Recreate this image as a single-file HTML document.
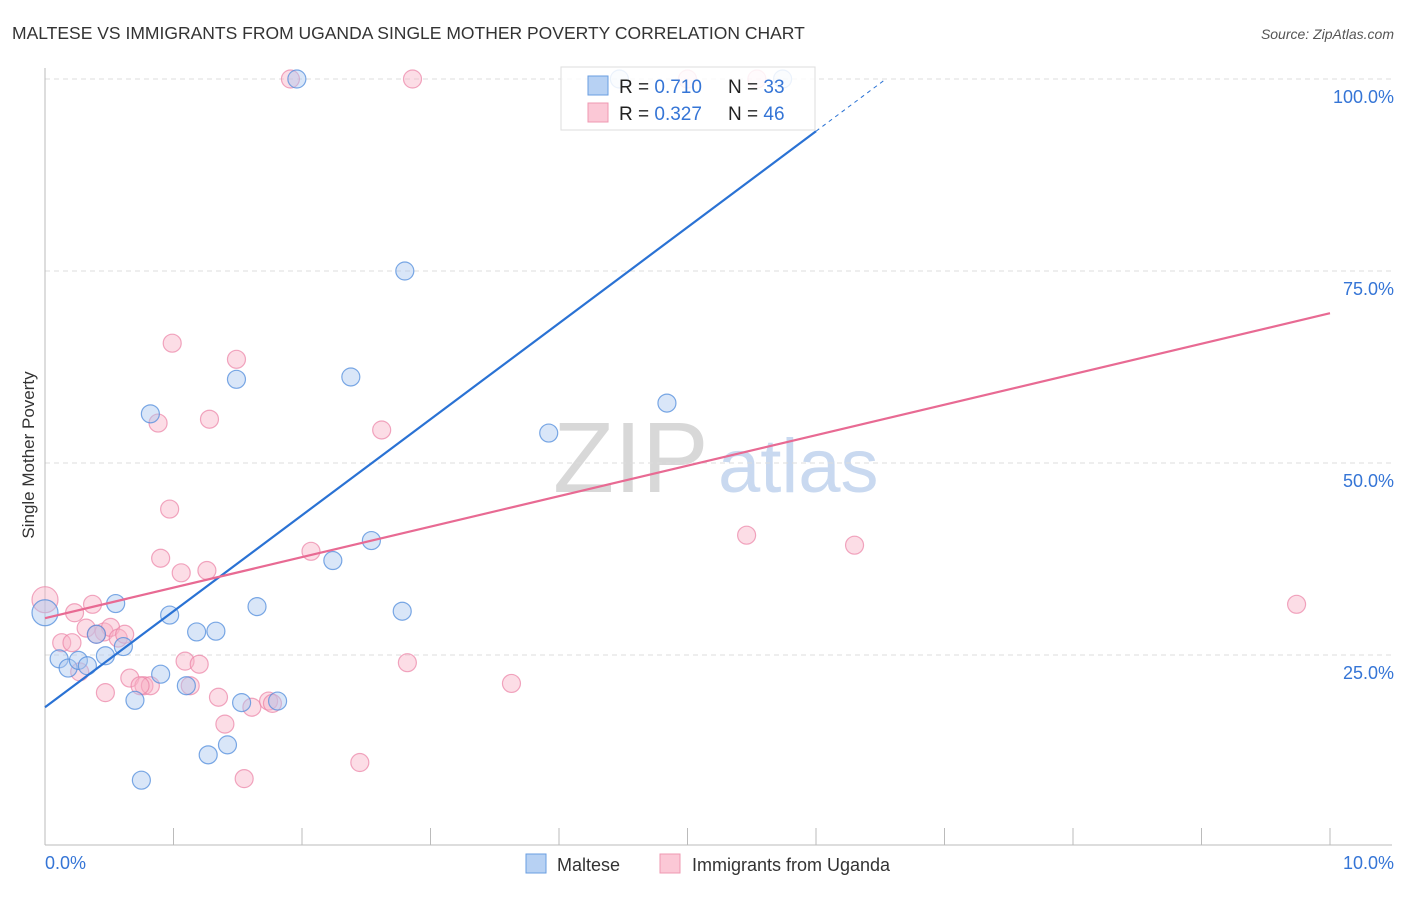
<!DOCTYPE html>
<html><head><meta charset="utf-8"><style>
body{margin:0;background:#fff;font-family:"Liberation Sans",sans-serif;}
svg text{font-family:"Liberation Sans",sans-serif;}
</style></head><body>
<svg id="c" width="1406" height="892">
<text x="12" y="39" font-size="17.5" fill="#333">MALTESE VS IMMIGRANTS FROM UGANDA SINGLE MOTHER POVERTY CORRELATION CHART</text>
<text x="1394" y="39" font-size="14" fill="#555" font-style="italic" text-anchor="end">Source: ZipAtlas.com</text>
<text x="0" y="0" transform="translate(34,455) rotate(-90)" font-size="17" fill="#333" text-anchor="middle">Single Mother Poverty</text>
<g><text x="553" y="492" font-size="100" fill="#d8d8d8" font-family="Liberation Serif">ZIP</text><text x="718" y="492" font-size="76" fill="#c9d9f0">atlas</text></g>
<g id="grid"></g><g id="pts"></g><g id="lines"></g>
<g>
<rect x="561" y="67" width="254" height="63" fill="#fff" fill-opacity="0.85" stroke="#ddd"/>
<rect x="588" y="76" width="20" height="19" fill="#b7d1f3" stroke="#6a9ee0"/>
<rect x="588" y="103" width="20" height="19" fill="#fbc8d6" stroke="#ef98b2"/>
<text x="619" y="93" font-size="19" fill="#222">R = <tspan fill="#3575d6">0.710</tspan></text>
<text x="728" y="93" font-size="19" fill="#222">N = <tspan fill="#3575d6">33</tspan></text>
<text x="619" y="120" font-size="19" fill="#222">R = <tspan fill="#3575d6">0.327</tspan></text>
<text x="728" y="120" font-size="19" fill="#222">N = <tspan fill="#3575d6">46</tspan></text>
</g>
<g>
<rect x="526" y="854" width="20" height="19" fill="#b7d1f3" stroke="#6a9ee0"/>
<text x="557" y="871" font-size="18" fill="#333">Maltese</text>
<rect x="660" y="854" width="20" height="19" fill="#fbc8d6" stroke="#ef98b2"/>
<text x="692" y="871" font-size="18" fill="#333">Immigrants from Uganda</text>
</g>
<text x="45" y="869" font-size="18" fill="#3575d6">0.0%</text>
<text x="1394" y="869" font-size="18" fill="#3575d6" text-anchor="end">10.0%</text>
</svg>
<script>
const yTicks=[25,50,75,100];
const yTickLabels=["25.0%","50.0%","75.0%","100.0%"];
const blueX=[0.0,0.11,0.18,0.26,0.33,0.40,0.47,0.55,0.61,0.70,0.75,0.82,0.90,0.97,1.10,1.18,1.27,1.33,1.42,1.49,1.53,1.65,1.81,1.96,2.24,2.38,2.54,2.78,2.80,3.92,4.84,4.47,5.74];
const blueY=[30.5,24.5,23.3,24.3,23.6,27.7,24.9,31.7,26.1,19.1,8.7,56.4,22.5,30.2,21.0,28.0,12.0,28.1,13.3,60.9,18.8,31.3,19.0,100,37.3,61.2,39.9,30.7,75.0,53.9,57.8,100,100];
const blueR=[13,9,9,9,9,9,9,9,9,9,9,9,9,9,9,9,9,9,9,9,9,9,9,9,9,9,9,9,9,9,9,9,9];
const pinkX=[0.0,0.13,0.21,0.27,0.37,0.46,0.51,0.32,0.47,0.57,0.62,0.66,0.77,0.82,0.88,0.90,0.97,0.99,1.06,1.09,1.13,1.20,1.26,1.28,1.35,1.40,1.49,1.55,1.61,1.74,1.77,1.91,2.07,2.45,2.62,2.82,2.86,3.63,5.46,6.30,9.74,5.00,5.54,0.23,0.40,0.74];
const pinkY=[32.2,26.6,26.6,22.8,31.6,28.0,28.6,28.5,20.1,27.2,27.7,22.0,21.0,21.0,55.2,37.6,44.0,65.6,35.7,24.2,21.0,23.8,36.0,55.7,19.5,16.0,63.5,8.9,18.2,19.0,18.7,100,38.5,11.0,54.3,24.0,100,21.3,40.6,39.3,31.6,100,100,30.5,27.7,21.0];
const blueLine=[18.2,143.2];
const pinkLine=[29.8,69.5];
const blueSolidEnd=6.0;
const ns="http://www.w3.org/2000/svg";
const X0=45,X1=1330,Ybase=847,Ypx=7.68;
function sx(v){return X0+(X1-X0)*v/10;}
function sy(v){return Ybase-v*Ypx;}
function mk(t,a,p){const e=document.createElementNS(ns,t);for(const k in a)e.setAttribute(k,a[k]);p.appendChild(e);return e;}
const grid=document.getElementById('grid');
yTicks.forEach((t,i)=>{
 const l=mk('line',{x1:45,x2:1392,y1:sy(t),y2:sy(t),stroke:'#ddd','stroke-dasharray':'5,4'},grid);
 
 
 const tx=mk('text',{x:1394,y:sy(t)+24,'font-size':18,fill:'#3575d6','text-anchor':'end'},grid);
 tx.textContent=yTickLabels[i];
 
 
});
const ax=mk('line',{x1:45,x2:45,y1:68,y2:845,stroke:'#bbb'},grid);


const bx=mk('line',{x1:45,x2:1392,y1:845,y2:845,stroke:'#bbb'},grid);


for(let i=1;i<=10;i++){
 const t=mk('line',{x1:sx(i),x2:sx(i),y1:828,y2:845,stroke:'#bbb'},grid);
 
 
}
const pts=document.getElementById('pts');
pinkX.forEach((v,i)=>{
 const c=mk('circle',{cx:sx(v),cy:sy(pinkY[i]),r:i==0?13:9,fill:'rgba(248,180,200,0.45)',stroke:'rgba(235,130,165,0.7)','stroke-width':1.2},pts);
 
 
});
blueX.forEach((v,i)=>{
 const c=mk('circle',{cx:sx(v),cy:sy(blueY[i]),r:blueR[i],fill:'rgba(170,200,240,0.45)',stroke:'rgba(80,140,220,0.75)','stroke-width':1.2},pts);
 
 
});
const lines=document.getElementById('lines');
function by(x){return blueLine[0]+(blueLine[1]-blueLine[0])*x/10;}
const b1=mk('line',{x1:sx(0),y1:sy(by(0)),x2:sx(blueSolidEnd),y2:sy(by(blueSolidEnd)),stroke:'#2a72d4','stroke-width':2.2},lines);


const xEnd=(100-blueLine[0])/(blueLine[1]-blueLine[0])*10;
const b2=mk('line',{x1:sx(blueSolidEnd),y1:sy(by(blueSolidEnd)),x2:sx(xEnd),y2:sy(100),stroke:'#2a72d4','stroke-width':1,'stroke-dasharray':'4,4'},lines);


const p1=mk('line',{x1:sx(0),y1:sy(pinkLine[0]),x2:sx(10),y2:sy(pinkLine[1]),stroke:'#e86a93','stroke-width':2.2},lines);


</script>
</body></html>
